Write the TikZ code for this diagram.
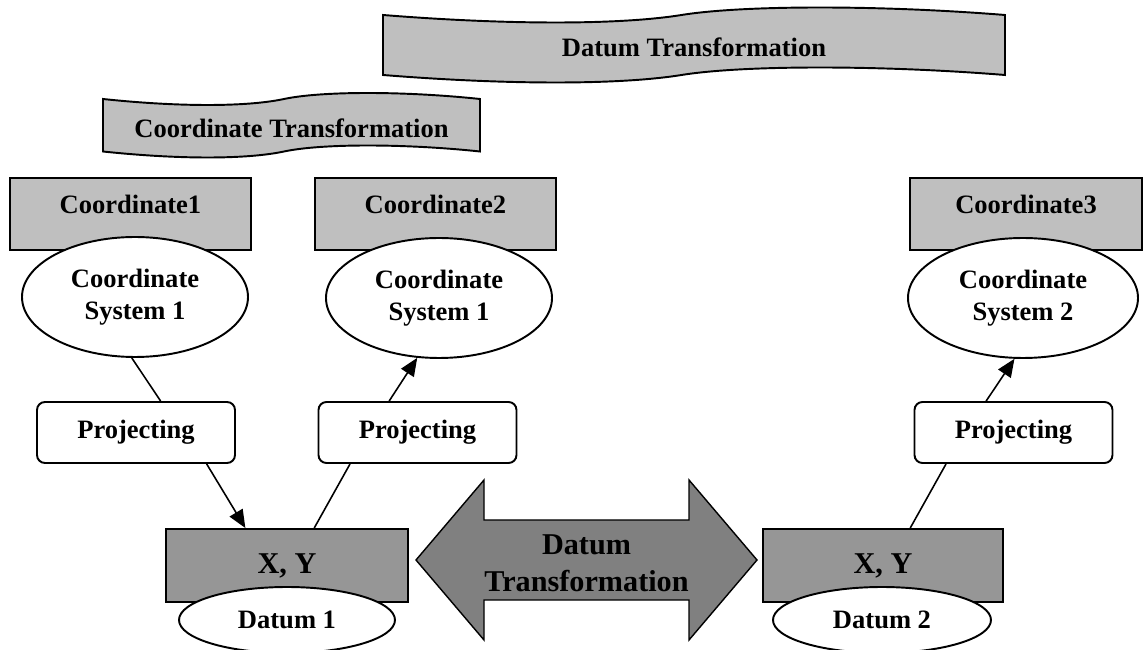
\documentclass[tikz,border=0pt]{standalone}
\usepackage{fontspec}
\setmainfont{Liberation Serif}
\usetikzlibrary{shapes.geometric,arrows.meta}

\definecolor{silver}{gray}{0.75}
\definecolor{xygray}{gray}{0.59}
\definecolor{arrowgray}{gray}{0.5}

\begin{document}
\begin{tikzpicture}[
  font=\fontsize{15.1}{18}\selectfont\bfseries,
  banner/.style={fill=silver, draw, line width=1.1pt},
  coordbox/.style={draw, fill=silver, line width=1.1pt, minimum width=4.82cm, minimum height=1.44cm, text height=0.4cm, text depth=0.4cm, inner sep=0pt},
  sysell/.style={ellipse, draw, fill=white, line width=1.1pt, minimum width=4.52cm, minimum height=2.4cm, inner sep=0pt, align=center},
  projbox/.style={draw, fill=white, rounded corners=0.16cm, line width=1.1pt, minimum width=3.96cm, minimum height=1.22cm, inner sep=0pt},
  xybox/.style={draw, fill=xygray, line width=1.1pt, minimum width=4.84cm, minimum height=1.46cm, inner sep=0pt, font=\fontsize{17.2}{21}\selectfont\bfseries},
  datumell/.style={ellipse, draw, fill=white, line width=1.1pt, minimum width=4.32cm, minimum height=1.32cm, inner sep=0pt},
  link/.style={line width=0.9pt},
  linkarrow/.style={line width=0.9pt, -{Triangle[length=0.36cm, width=0.3cm]}}
]
  \useasboundingbox (0,0) rectangle (22.86,-13);

  % banners
  \filldraw[banner] (7.66,-0.30) .. controls (10.15,-0.50) and (12.39,-0.50) .. (13.63,-0.30)
    .. controls (14.87,-0.10) and (17.61,-0.10) .. (20.10,-0.30) -- (20.10,-1.50)
    .. controls (17.61,-1.30) and (14.87,-1.30) .. (13.63,-1.50)
    .. controls (12.39,-1.70) and (10.15,-1.70) .. (7.66,-1.50) -- cycle;
  \node (datumtrans) at (13.88,-0.94) {Datum Transformation};
  \filldraw[banner] (2.06,-1.98) .. controls (3.57,-2.14) and (4.93,-2.14) .. (5.68,-1.98)
    .. controls (6.43,-1.82) and (8.09,-1.82) .. (9.60,-1.98) -- (9.60,-3.03)
    .. controls (8.09,-2.87) and (6.43,-2.87) .. (5.68,-3.03)
    .. controls (4.93,-3.19) and (3.57,-3.19) .. (2.06,-3.03) -- cycle;
  \node (coordtrans) at (5.83,-2.56) {Coordinate Transformation};

  % coordinate boxes and systems
  \node[coordbox] (coord1) at (2.61,-4.28) {Coordinate1};
  \node[coordbox] (coord2) at (8.71,-4.28) {Coordinate2};
  \node[coordbox, minimum width=4.64cm] (coord3) at (20.52,-4.28) {Coordinate3};
  \node[sysell] (sys1) at (2.70,-5.94) {Coordinate\\System 1};
  \node[sysell] (sys2) at (8.78,-5.96) {Coordinate\\System 1};
  \node[sysell, minimum width=4.60cm] (sys3) at (20.46,-5.96) {Coordinate\\System 2};

  % projecting
  \node[projbox] (proj1) at (2.72,-8.65) {Projecting};
  \node[projbox] (proj2) at (8.35,-8.65) {Projecting};
  \node[projbox] (proj3) at (20.27,-8.65) {Projecting};

  % datums
  \node[xybox] (xy1) at (5.74,-11.31) {X, Y};
  \node[xybox, minimum width=4.80cm] (xy2) at (17.66,-11.31) {X, Y};
  \node[datumell] (datum1) at (5.74,-12.40) {Datum 1};
  \node[datumell, minimum width=4.36cm] (datum2) at (17.64,-12.40) {Datum 2};

  % double arrow
  \filldraw[fill=arrowgray, line width=0.8pt] (8.32,-11.20) -- (9.68,-9.60) -- (9.68,-10.40)
    -- (13.78,-10.40) -- (13.78,-9.60) -- (15.14,-11.20) -- (13.78,-12.80) -- (13.78,-12.00)
    -- (9.68,-12.00) -- (9.68,-12.80) -- cycle;
  \node[align=center, font=\fontsize{17.2}{21}\selectfont\bfseries] (dtarrow) at (11.73,-11.26) {Datum\\Transformation};

  % connectors
  \draw[link] (sys1.-93) -- (proj1.52);
  \draw[linkarrow] (proj1.-24.5) -- (xy1.138.4);
  \draw[link] (xy1.54.8) -- (proj2.205);
  \draw[linkarrow] (proj2.132) -- (sys2.250.7);
  \draw[link] (xy2.54.8) -- (proj3.205);
  \draw[linkarrow] (proj3.131) -- (sys3.262.4);
\end{tikzpicture}
\end{document}
